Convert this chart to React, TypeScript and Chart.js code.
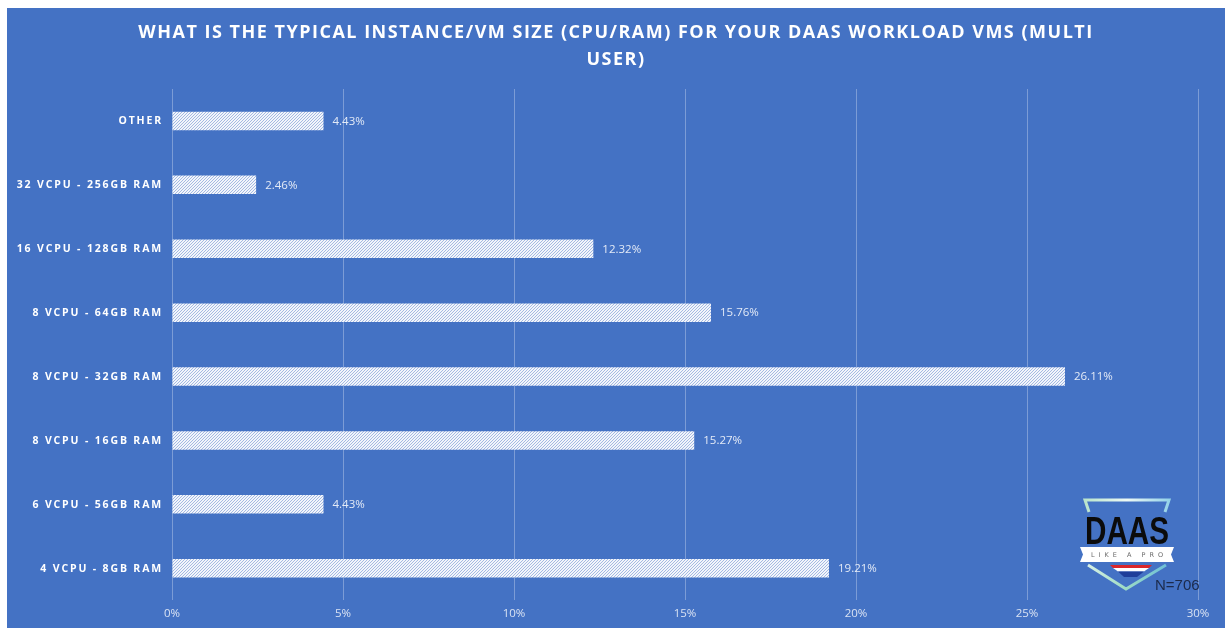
import React, { useEffect, useRef } from "react";
import { Chart, registerables } from "chart.js";

Chart.register(...registerables);

const titleLines = [
  "WHAT IS THE TYPICAL INSTANCE/VM SIZE (CPU/RAM) FOR YOUR DAAS WORKLOAD VMS (MULTI",
  "USER)",
];
const categories = [
  "OTHER",
  "32 VCPU - 256GB RAM",
  "16 VCPU - 128GB RAM",
  "8 VCPU - 64GB RAM",
  "8 VCPU - 32GB RAM",
  "8 VCPU - 16GB RAM",
  "6 VCPU - 56GB RAM",
  "4 VCPU - 8GB RAM",
];
const values = [4.43, 2.46, 12.32, 15.76, 26.11, 15.27, 4.43, 19.21];
const xTicks = [0, 5, 10, 15, 20, 25, 30];
const sampleSize = "N=706";

const BG = "#4472C4";

function makePattern(): CanvasPattern | string {
  const c = document.createElement("canvas");
  c.width = 3;
  c.height = 3;
  const x = c.getContext("2d");
  if (!x) return "#e8edf7";
  x.fillStyle = "#f2f5fb";
  x.fillRect(0, 0, 3, 3);
  x.strokeStyle = "rgba(68,114,196,0.5)";
  x.lineWidth = 0.9;
  x.beginPath();
  x.moveTo(0, 3);
  x.lineTo(3, 0);
  x.moveTo(-1, 1);
  x.lineTo(1, -1);
  x.moveTo(2, 4);
  x.lineTo(4, 2);
  x.stroke();
  const p = x.createPattern(c, "repeat");
  return p || "#e8edf7";
}

function drawLogo(ctx: CanvasRenderingContext2D, ox: number, oy: number) {
  ctx.save();
  ctx.translate(ox, oy);
  const g = ctx.createLinearGradient(0, 0, 90, 0);
  g.addColorStop(0, "#b6e3c9");
  g.addColorStop(0.5, "#eef9f4");
  g.addColorStop(1, "#8fd0e8");
  ctx.strokeStyle = g;
  ctx.lineWidth = 3;
  ctx.beginPath();
  ctx.moveTo(7, 14);
  ctx.lineTo(3, 2);
  ctx.lineTo(87, 2);
  ctx.lineTo(83, 14);
  ctx.stroke();
  // DAAS
  ctx.fillStyle = "#0b0b0b";
  ctx.textAlign = "center";
  ctx.textBaseline = "alphabetic";
  ctx.save();
  ctx.translate(45, 46);
  ctx.scale(0.78, 1);
  ctx.font = "bold 38px 'Liberation Sans'";
  ctx.fillText("DAAS", 0, 0);
  ctx.restore();
  // banner
  ctx.fillStyle = "#ffffff";
  ctx.beginPath();
  ctx.moveTo(-2, 49);
  ctx.lineTo(92, 49);
  ctx.lineTo(89, 56.5);
  ctx.lineTo(92, 64);
  ctx.lineTo(-2, 64);
  ctx.lineTo(1, 56.5);
  ctx.closePath();
  ctx.fill();
  ctx.fillStyle = "#6a6a6a";
  ctx.font = "6.5px 'DejaVu Sans'";
  (ctx as any).letterSpacing = "4px";
  ctx.textAlign = "center";
  ctx.textBaseline = "middle";
  ctx.fillText("LIKE A PRO", 47, 57);
  (ctx as any).letterSpacing = "0px";
  // bottom V
  const g2 = ctx.createLinearGradient(0, 66, 90, 92);
  g2.addColorStop(0, "#e0f3ea");
  g2.addColorStop(0.5, "#9fdcc4");
  g2.addColorStop(1, "#5cb6dd");
  ctx.strokeStyle = g2;
  ctx.lineWidth = 3;
  ctx.beginPath();
  ctx.moveTo(6, 67);
  ctx.lineTo(44, 91);
  ctx.lineTo(84, 67);
  ctx.stroke();
  // stripes
  ctx.fillStyle = "#d9262b";
  ctx.beginPath();
  ctx.moveTo(28, 67);
  ctx.lineTo(70, 67);
  ctx.lineTo(67, 70);
  ctx.lineTo(31, 70);
  ctx.closePath();
  ctx.fill();
  ctx.fillStyle = "#ffffff";
  ctx.beginPath();
  ctx.moveTo(31, 70);
  ctx.lineTo(67, 70);
  ctx.lineTo(62, 73.5);
  ctx.lineTo(36, 73.5);
  ctx.closePath();
  ctx.fill();
  ctx.fillStyle = "#1f3e9a";
  ctx.beginPath();
  ctx.moveTo(36, 73.5);
  ctx.lineTo(62, 73.5);
  ctx.lineTo(55, 79);
  ctx.lineTo(42, 79);
  ctx.closePath();
  ctx.fill();
  ctx.restore();
  // N
  ctx.save();
  ctx.fillStyle = "#1c2a4a";
  ctx.font = "15px 'Liberation Sans'";
  ctx.textAlign = "left";
  ctx.textBaseline = "middle";
  ctx.fillText(sampleSize, ox + 73, oy + 88);
  ctx.restore();
}

const overlayPlugin = {
  id: "overlay",
  afterDraw(chart: any) {
    const ctx: CanvasRenderingContext2D = chart.ctx;
    const yScale = chart.scales.y;
    const xScale = chart.scales.x;
    const area = chart.chartArea;
    ctx.save();
    // Title
    ctx.fillStyle = "#ffffff";
    ctx.font = "bold 18px 'Open Sans'";
    (ctx as any).letterSpacing = "1.5px";
    ctx.textAlign = "center";
    ctx.textBaseline = "middle";
    const cx = chart.width / 2;
    ctx.fillText(titleLines[0], cx, 25);
    ctx.fillText(titleLines[1], cx, 52);

    // Category labels
    ctx.font = "bold 10.5px 'Open Sans'";
    (ctx as any).letterSpacing = "1.85px";
    ctx.textAlign = "right";
    categories.forEach((c, i) => {
      const y = yScale.getPixelForValue(i);
      ctx.fillText(c, area.left - 9, y + 0.5);
    });

    // Value labels
    ctx.font = "11.5px 'Open Sans'";
    (ctx as any).letterSpacing = "0px";
    ctx.fillStyle = "rgba(255,255,255,0.85)";
    ctx.textAlign = "left";
    values.forEach((v, i) => {
      const y = yScale.getPixelForValue(i);
      const x = xScale.getPixelForValue(v);
      ctx.fillText(v.toFixed(2) + "%", x + 9, y + 0.5);
    });
    ctx.restore();

    drawLogo(ctx, 1075, 490);
  },
};

export default function App() {
  const ref = useRef<HTMLCanvasElement | null>(null);
  useEffect(() => {
    if (!ref.current) return;
    const pattern = makePattern();
    const chart = new Chart(ref.current, {
      type: "bar",
      data: {
        labels: categories,
        datasets: [
          {
            data: values,
            backgroundColor: pattern as any,
            borderWidth: 0,
            categoryPercentage: 1,
            barPercentage: 0.29,
          },
        ],
      },
      options: {
        indexAxis: "y",
        animation: false,
        responsive: true,
        maintainAspectRatio: false,
        layout: { padding: { left: 157, right: 27, top: 81, bottom: 0 } },
        plugins: {
          legend: { display: false },
          title: { display: false },
          tooltip: { enabled: false },
        },
        scales: {
          x: {
            min: 0,
            max: 30,
            afterBuildTicks: (axis: any) => {
              axis.ticks = xTicks.map((v) => ({ value: v }));
            },
            grid: {
              color: "rgba(255,255,255,0.3)",
              lineWidth: 1,
              drawTicks: false,
            },
            border: { display: false },
            ticks: {
              color: "rgba(255,255,255,0.8)",
              font: { family: "'Open Sans'", size: 11.5 },
              padding: 7,
              callback: (v: any) => v + "%",
            },
          },
          y: {
            grid: { display: false },
            border: { display: false },
            ticks: { display: false },
          },
        },
      },
      plugins: [overlayPlugin],
    });
    return () => chart.destroy();
  }, []);
  return (
    <div
      style={{
        position: "fixed",
        left: 7,
        top: 8,
        width: 1218,
        height: 620,
        background: BG,
      }}
    >
      <canvas ref={ref} />
    </div>
  );
}
